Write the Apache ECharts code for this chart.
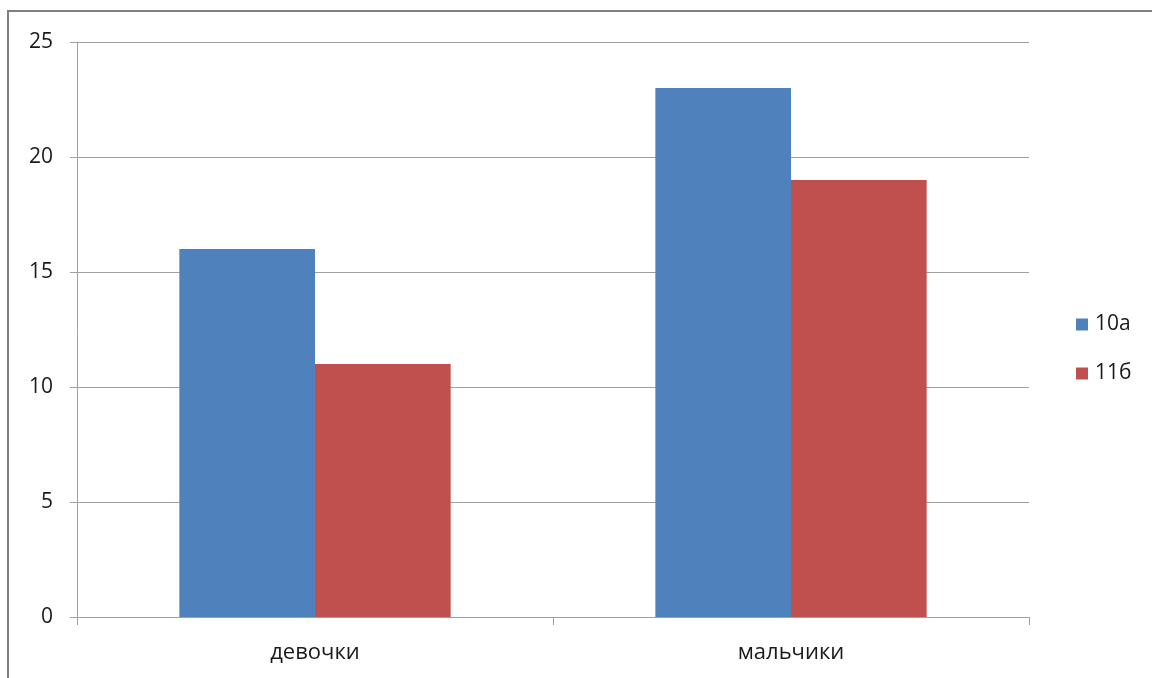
<!DOCTYPE html>
<html>
<head>
<meta charset="utf-8">
<script src="https://cdn.jsdelivr.net/npm/echarts@6/dist/echarts.min.js"></script>
<style>
  html, body { margin: 0; padding: 0; background: #fff; }
  #chart { width: 1152px; height: 678px; }
</style>
</head>
<body>
<div id="chart"></div>
<script>
// Categories and values per class
const categories = ['девочки', 'мальчики'];
const seriesNames = ['10а', '11б'];
const values10a = [16, 23];
const values11b = [11, 19];
const yTicks = [0, 5, 10, 15, 20, 25];

const font = '"Open Sans", "Noto Sans", sans-serif';
const chart = echarts.init(document.getElementById('chart'));

chart.setOption({
  animation: false,
  backgroundColor: '#ffffff',
  graphic: [{
    type: 'rect',
    shape: { x: 8, y: 11, width: 1200, height: 700 },
    style: { fill: 'none', stroke: '#808080', lineWidth: 2 },
    silent: true
  }],
  grid: { left: 77, top: 42, right: 123, bottom: 61 },
  legend: {
    orient: 'vertical',
    left: 1071,
    top: 309,
    itemWidth: 12,
    itemHeight: 12,
    itemGap: 28,
    icon: 'rect',
    textStyle: { fontFamily: font, fontSize: 21, color: '#1a1a1a', padding: [0, 0, 0, 2] },
    data: seriesNames
  },
  xAxis: {
    type: 'category',
    data: categories,
    axisLine: { lineStyle: { color: '#a0a0a0', width: 1 } },
    axisTick: { show: true, length: 8, alignWithLabel: false, lineStyle: { color: '#a0a0a0' } },
    axisLabel: { fontFamily: font, fontSize: 22, color: '#1a1a1a', margin: 25 }
  },
  yAxis: {
    type: 'value',
    min: yTicks[0],
    max: yTicks[yTicks.length - 1],
    interval: 5,
    axisLine: { show: true, lineStyle: { color: '#a0a0a0', width: 1 } },
    axisTick: { show: true, inside: false, length: 7, lineStyle: { color: '#a0a0a0' } },
    axisLabel: { fontFamily: font, fontSize: 21, color: '#1a1a1a', margin: 24 },
    splitLine: { lineStyle: { color: '#a0a0a0', width: 1 } }
  },
  series: [
    {
      name: seriesNames[0],
      type: 'bar',
      data: values10a,
      barGap: '0%',
      barCategoryGap: '43%',
      itemStyle: { color: '#4f81bd' }
    },
    {
      name: seriesNames[1],
      type: 'bar',
      data: values11b,
      itemStyle: { color: '#c0504d' }
    }
  ]
});
</script>
</body>
</html>
